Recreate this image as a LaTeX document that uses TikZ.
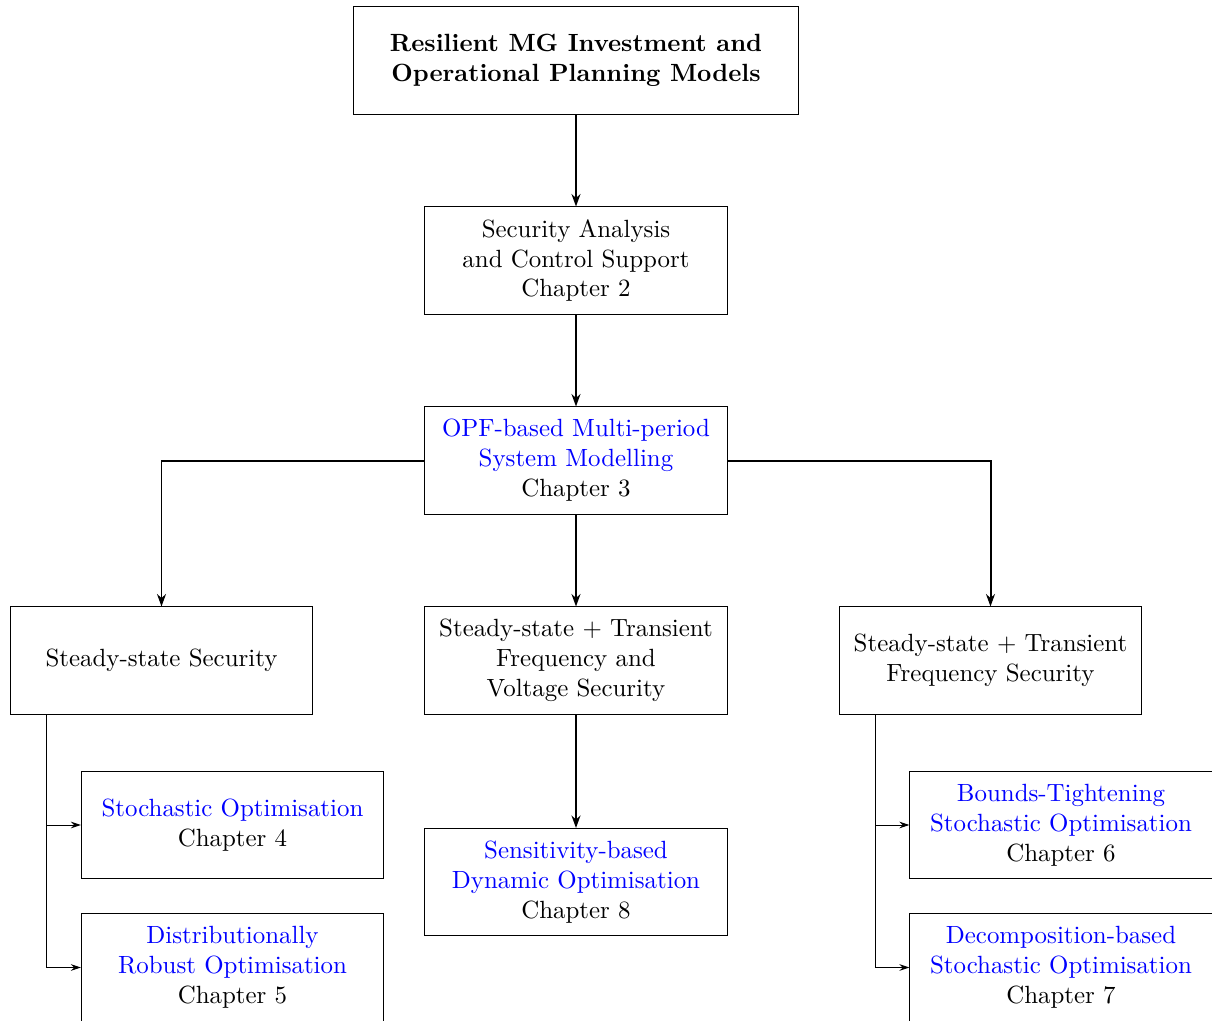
\documentclass[tikz,border=0pt]{standalone}
\usetikzlibrary{arrows.meta}
\begin{document}
\begin{tikzpicture}[x=0.4016pt,y=-0.4016pt,
  box/.style={draw, minimum width=121.3pt, minimum height=43pt, align=center, inner sep=0pt},
  topbox/.style={draw, minimum width=179.1pt, minimum height=43pt, align=center, inner sep=0pt, font=\bfseries},
  main/.style={thick,-{Stealth[length=5pt,width=3.6pt]}},
  side/.style={thin,-{Stealth[length=4pt,width=2.6pt]}}]
\useasboundingbox (0,0) rectangle (1212,1021);
\node[topbox] (top) at (576,60.5) {Resilient MG Investment and\\Operational Planning Models};
\node[box] (c2) at (576,260.5) {Security Analysis\\and Control Support\\Chapter 2};
\node[box] (c3) at (576,460.5) {\textcolor{blue}{OPF-based Multi-period}\\\textcolor{blue}{System Modelling}\\Chapter 3};
\node[box] (ss) at (161.5,660.5) {Steady-state Security};
\node[box] (sv) at (576,660.5) {Steady-state + Transient\\Frequency and\\Voltage Security};
\node[box] (sf) at (990.5,660.5) {Steady-state + Transient\\Frequency Security};
\node[box] (c8) at (576,882) {\textcolor{blue}{Sensitivity-based}\\\textcolor{blue}{Dynamic Optimisation}\\Chapter 8};
\node[box] (c4) at (232.5,825) {\textcolor{blue}{Stochastic Optimisation}\\Chapter 4};
\node[box] (c5) at (232.5,967.5) {\textcolor{blue}{Distributionally}\\\textcolor{blue}{Robust Optimisation}\\Chapter 5};
\node[box] (c6) at (1061,825) {\textcolor{blue}{Bounds-Tightening}\\\textcolor{blue}{Stochastic Optimisation}\\Chapter 6};
\node[box] (c7) at (1061,967.5) {\textcolor{blue}{Decomposition-based}\\\textcolor{blue}{Stochastic Optimisation}\\Chapter 7};
\coordinate (ssx) at ([xshift=37*0.4016pt]ss.south west);
\coordinate (sfx) at ([xshift=37*0.4016pt]sf.south west);
\draw[main] (top) -- (c2);
\draw[main] (c2) -- (c3);
\draw[main] (c3) -- (sv);
\draw[main] (sv) -- (c8);
\draw[main] (c3.west) -| (ss.north);
\draw[main] (c3.east) -| (sf.north);
\draw[side] (ssx) |- (c4.west);
\draw[side] (ssx) |- (c5.west);
\draw[side] (sfx) |- (c6.west);
\draw[side] (sfx) |- (c7.west);
\end{tikzpicture}
\end{document}
